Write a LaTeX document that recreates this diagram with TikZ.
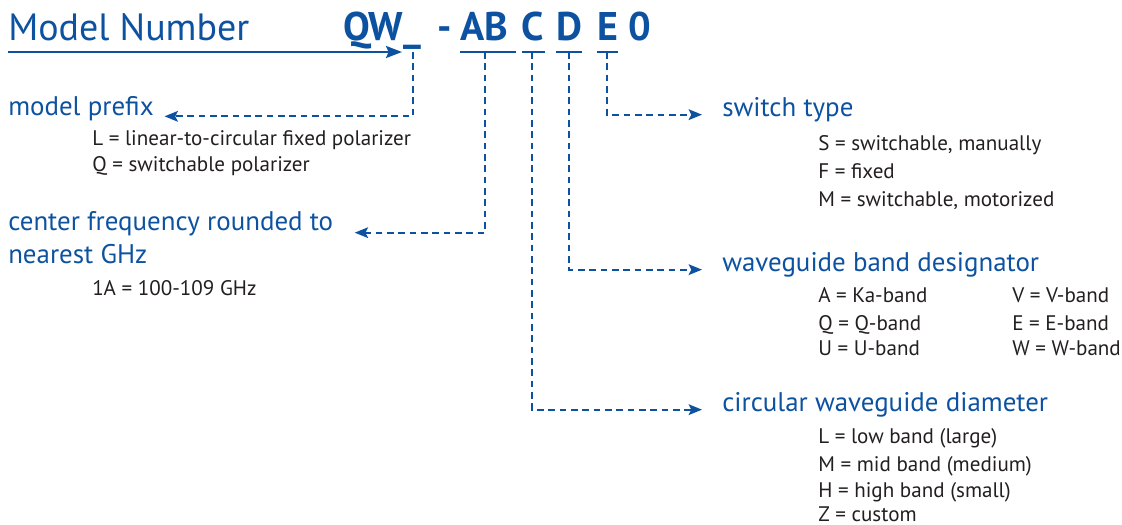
\documentclass[tikz,border=0pt]{standalone}
\usepackage{fontspec}
\setmainfont{PT Sans}
\usetikzlibrary{arrows.meta, positioning}
\definecolor{qblue}{RGB}{12,82,160}
\definecolor{qtext}{RGB}{35,31,32}
\tikzset{
  head/.style={anchor=base west, inner sep=0, text=qblue, font=\fontsize{20.2}{24}\selectfont},
  item/.style={anchor=base west, inner sep=0, text=qtext, font=\fontsize{15.8}{18}\selectfont},
  code/.style={anchor=base west, inner sep=0, text=qblue, font=\fontsize{30}{34}\selectfont\bfseries},
  lead/.style={qblue, line width=1.5pt, dash pattern=on 5pt off 3.5pt, -{Stealth[length=10pt,width=8pt,inset=2pt]}},
  bar/.style={qblue, line width=1.6pt},
}
\begin{document}
\begin{tikzpicture}[x=0.75pt, y=-0.75pt]
\useasboundingbox (0,0) rectangle (1122,525);

% model number line
\node[anchor=base west, inner sep=0, text=qblue, font=\fontsize{28.5}{32}\selectfont] (title) at (8,40) {Model Number};
\node[code] (qw) at (343,40) {QW\_};
\node[code] (dash) at (437,40) {-};
\node[code] (ab) at (460,40) {AB};
\node[code] (c) at (521,40) {C};
\node[code] (d) at (556,40) {D};
\node[code] (e) at (597,40) {E};
\node[code] (zero) at (628,40) {0};
\coordinate (arrowtip) at (402,52);
\draw[qblue, line width=1.8pt, -{Stealth[length=12pt,width=9pt,inset=2pt]}] (8,52) -- (arrowtip);

% bars under the letters
\draw[bar] (460,52) -- (516,52);
\draw[bar] (522,52) -- (545,52);
\draw[bar] (556,52) -- (582,52);
\draw[bar] (597,52) -- (618,52);
\coordinate (qwx) at (413,52);
\coordinate (abx) at (485,52);
\coordinate (cx) at (532,52);
\coordinate (dx) at (569,52);
\coordinate (ex) at (607,52);

% left side
\node[head] (prefix) at (8,115) {model prefix};
\node[item] (pl) at (92,145) {L = linear-to-circular fixed polarizer};
\node[item] (pq) at (92,171) {Q = switchable polarizer};

\node[head] (freq) at (8,230) {center frequency rounded to};
\node[head] (freq2) at (8,263) {nearest GHz};
\node[item] (f1) at (92,295) {1A = 100-109 GHz};

% right side
\node[head] (switch) at (722,116) {switch type};
\node[item] (ss) at (818,150) {S = switchable, manually};
\node[item] (sf) at (818,178) {F = fixed};
\node[item] (sm) at (818,206) {M = switchable, motorized};

\node[head] (band) at (722,271) {waveguide band designator};
\node[item] (ba) at (818,302) {A = Ka-band};
\node[item] (bq) at (818,330) {Q = Q-band};
\node[item] (bu) at (818,355) {U = U-band};
\node[item] (bv) at (1012,302) {V = V-band};
\node[item] (be) at (1012,330) {E = E-band};
\node[item] (bw) at (1012,355) {W = W-band};

\node[head] (diam) at (722,411) {circular waveguide diameter};
\node[item] (dl) at (818,443) {L = low band (large)};
\node[item] (dm) at (818,471) {M = mid band (medium)};
\node[item] (dh) at (818,497) {H = high band (small)};
\node[item] (dz) at (818,521) {Z = custom};

% leaders
\draw[lead] (qwx) |- ([xshift=8, yshift=-1]prefix.base east);
\draw[lead] (abx) |- ([xshift=16, yshift=-2]freq.base east);
\draw[lead] (ex) |- ([xshift=-15, yshift=1]switch.base west);
\draw[lead] (dx) |- ([xshift=-15, yshift=1]band.base west);
\draw[lead] (cx) |- ([xshift=-15, yshift=1]diam.base west);
\end{tikzpicture}
\end{document}
